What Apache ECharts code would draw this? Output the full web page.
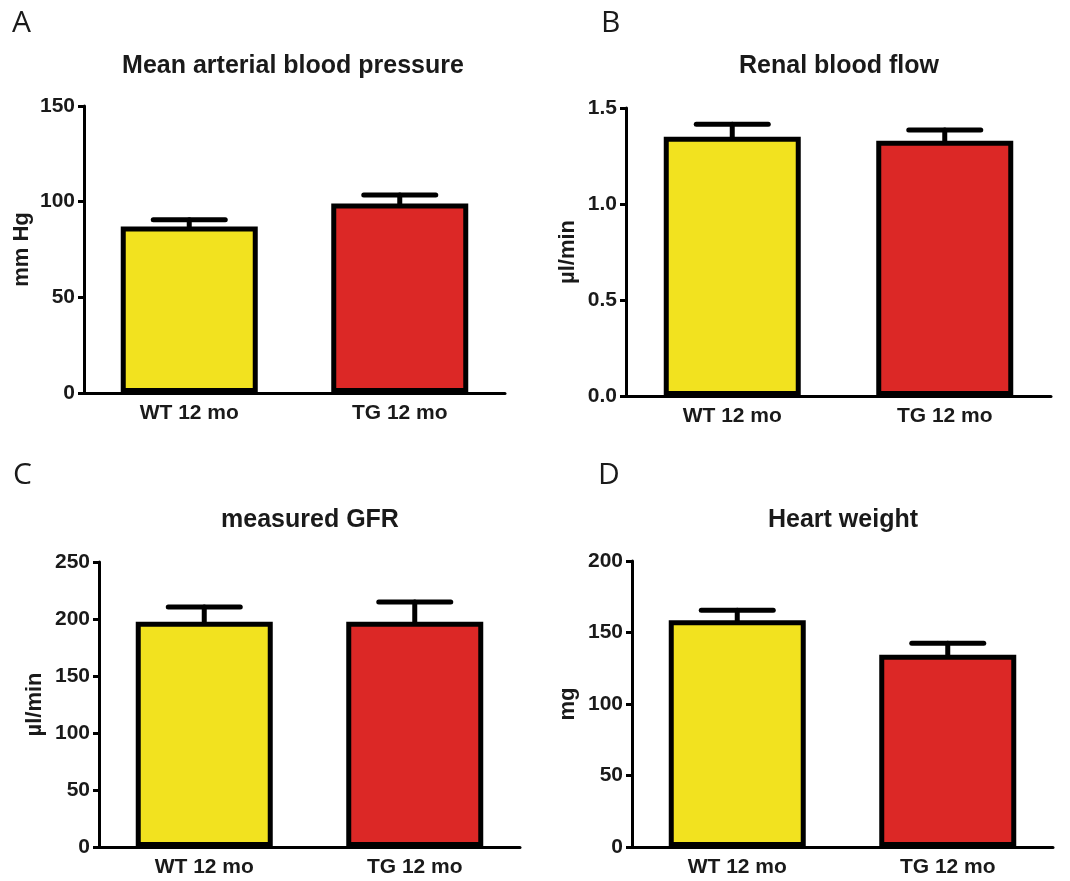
<!DOCTYPE html>
<html>
<head>
<meta charset="utf-8">
<script src="https://cdn.jsdelivr.net/npm/echarts@6/dist/echarts.min.js"></script>
<style>
html,body{margin:0;padding:0;background:#fff;}
#chart{width:1070px;height:881px;}
</style>
</head>
<body>
<div id="chart"></div>
<script>
// ---- data ----
const categories = ['WT 12 mo', 'TG 12 mo'];
const panelLetters = ['A', 'B', 'C', 'D'];
const panelTitles = ['Mean arterial blood pressure', 'Renal blood flow', 'measured GFR', 'Heart weight'];
const yAxisNames = ['mm Hg', 'µl/min', 'µl/min', 'mg'];
const yMax = [150, 1.5, 250, 200];
const yInterval = [50, 0.5, 50, 50];
const meanA = [87, 99];
const upperA = [90.5, 103.5];
const meanB = [1.35, 1.33];
const upperB = [1.415, 1.385];
const meanC = [197.5, 197.5];
const upperC = [210.5, 215];
const meanD = [158.5, 134.5];
const upperD = [165.5, 142.5];
const barColors = ['#F2E21F', '#DC2826'];

const means = [meanA, meanB, meanC, meanD];
const uppers = [upperA, upperB, upperC, upperD];

// ---- layout ----
const grids = [
  {left: 84, top: 106, width: 421, height: 287},
  {left: 626, top: 108, width: 425, height: 288},
  {left: 99, top: 562, width: 421, height: 285},
  {left: 632, top: 561, width: 421, height: 286}
];
const letterPos = [[12, 8], [601, 8], [13, 460], [598, 460]];
const titleCenter = [[293, 54], [839, 54], [310, 508], [843, 508]];
const nameGaps = [51, 47, 53, 53];

const FONT = '"Liberation Sans", Arial, sans-serif';

const option = {
  animation: false,
  backgroundColor: '#ffffff',
  title: [],
  grid: grids.map(g => Object.assign({containLabel: false}, g)),
  xAxis: [],
  yAxis: [],
  series: []
};

for (let i = 0; i < 4; i++) {
  option.title.push({
    text: panelLetters[i], left: letterPos[i][0], top: letterPos[i][1], padding: 0,
    textStyle: {fontFamily: '"Open Sans", "DejaVu Sans", sans-serif', fontWeight: 'normal', fontSize: 30, color: '#1a1a1a'}
  });
  option.title.push({
    text: panelTitles[i], left: titleCenter[i][0], top: titleCenter[i][1], textAlign: 'center', padding: 0,
    textStyle: {fontFamily: FONT, fontWeight: 'bold', fontSize: 25, color: '#1a1a1a'}
  });
  option.xAxis.push({
    type: 'category', gridIndex: i, data: categories,
    axisLine: {lineStyle: {color: '#000', width: 3}},
    axisTick: {alignWithLabel: true, length: 7, lineStyle: {color: '#000', width: 3}},
    axisLabel: {fontFamily: FONT, fontWeight: 'bold', fontSize: 21, color: '#1a1a1a', margin: 10}
  });
  option.yAxis.push({
    type: 'value', gridIndex: i, min: 0, max: yMax[i], interval: yInterval[i],
    name: yAxisNames[i], nameLocation: 'middle', nameRotate: 90, nameGap: nameGaps[i],
    nameTextStyle: {fontFamily: FONT, fontWeight: 'bold', fontSize: 22, color: '#1a1a1a'},
    axisLine: {show: true, lineStyle: {color: '#000', width: 3}},
    axisTick: {show: true, length: 6, lineStyle: {color: '#000', width: 3}},
    splitLine: {show: false},
    axisLabel: {
      fontFamily: FONT, fontWeight: 'bold', fontSize: 21, color: '#1a1a1a', margin: 9,
      formatter: v => (i === 1 ? v.toFixed(1) : String(v))
    }
  });
  option.series.push({
    type: 'bar', xAxisIndex: i, yAxisIndex: i, barWidth: 137,
    data: means[i].map((v, k) => ({value: v, itemStyle: {color: barColors[k]}})),
    itemStyle: {borderColor: '#000', borderWidth: 5},
    z: 2
  });
  option.series.push({
    type: 'custom', xAxisIndex: i, yAxisIndex: i, z: 3,
    data: means[i].map((v, k) => [k, v, uppers[i][k]]),
    renderItem: function (params, api) {
      const p0 = api.coord([api.value(0), api.value(1)]);
      const p1 = api.coord([api.value(0), api.value(2)]);
      const half = 36;
      const st = {stroke: '#000', lineWidth: 5, lineCap: 'round'};
      return {
        type: 'group',
        children: [
          {type: 'line', shape: {x1: p0[0], y1: p0[1], x2: p1[0], y2: p1[1]}, style: st},
          {type: 'line', shape: {x1: p1[0] - half, y1: p1[1], x2: p1[0] + half, y2: p1[1]}, style: st}
        ]
      };
    }
  });
}

const chart = echarts.init(document.getElementById('chart'));
chart.setOption(option);
</script>
</body>
</html>
